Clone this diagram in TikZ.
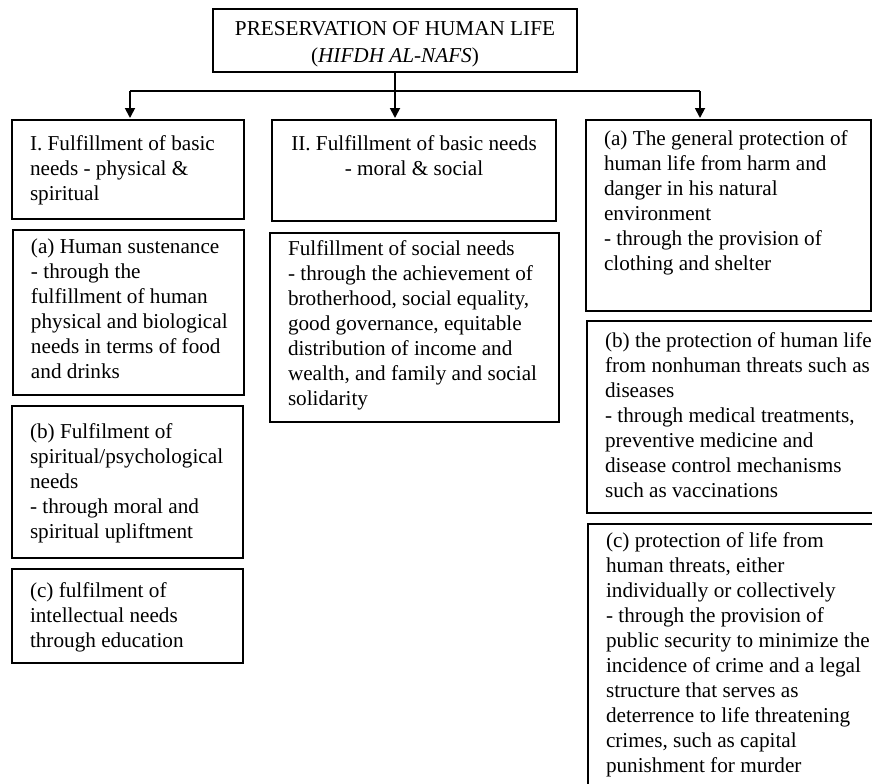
\documentclass[tikz,border=0pt]{standalone}
\usepackage{fontspec}
\setmainfont{Liberation Serif}
\usetikzlibrary{arrows.meta}
\newcommand\LA{\raggedright\leftskip=9pt\relax}
\newcommand\CA{\centering}
% name, x, y, w, h (px), first-baseline offset (px), alignment, text
\newcommand\qbx[8]{%
  \node[boxs, minimum width=#4*0.5pt, minimum height=#5*0.5pt] (#1) at (#2,#3)
  {\parbox[c][\dimexpr#5pt/2\relax][t]{\dimexpr#4pt/2\relax}{%
    \fontsize{10.6pt}{12.5pt}\selectfont#7%
    \vspace*{\dimexpr#6pt/2-\ht\strutbox\relax}\strut #8}};}
\tikzset{
  boxs/.style={draw=black, line width=0.9pt, inner sep=0pt, outer sep=0pt, anchor=north west},
  conn/.style={draw=black, line width=0.9pt},
  arr/.style={conn, -{Triangle[length=5pt,width=5pt]}, shorten >=1pt}
}
\begin{document}
\begin{tikzpicture}[x=0.5pt, y=-0.5pt]
\clip (0,0) rectangle (872,783);
\qbx{top}{213}{9}{364}{63}{26}{\CA}{PRESERVATION OF HUMAN LIFE\\[1pt](\textit{HIFDH AL-NAFS})}
\qbx{b1}{12}{120}{232}{99}{30}{\LA}{I. Fulfillment of basic\\needs - physical \&\\spiritual}
\qbx{la}{13}{230}{231}{165}{23}{\LA}{(a) Human sustenance\\- through the\\fulfillment of human\\physical and biological\\needs in terms of food\\and drinks}
\qbx{lb}{12}{406}{231}{152}{32}{\LA}{(b) Fulfilment of\\spiritual/psychological\\needs\\- through moral and\\spiritual upliftment}
\qbx{lc}{12}{569}{231}{94}{28}{\LA}{(c) fulfilment of\\intellectual needs\\through education}
\qbx{b2}{272}{120}{284}{101}{30}{\CA}{II. Fulfillment of basic needs\\- moral \& social}
\qbx{ma}{270}{233}{289}{189}{22}{\LA}{Fulfillment of social needs\\- through the achievement of\\brotherhood, social equality,\\good governance, equitable\\distribution of income and\\wealth, and family and social\\solidarity}
\qbx{ra}{586}{120}{285}{191}{25}{\LA}{(a) The general protection of\\human life from harm and\\danger in his natural\\environment\\- through the provision of\\clothing and shelter}
\qbx{rb}{587}{321}{293}{192}{26}{\LA}{(b) the protection of human life\\from nonhuman threats such as\\diseases\\- through medical treatments,\\preventive medicine and\\disease control mechanisms\\such as vaccinations}
\qbx{rc}{588}{524}{292}{280}{23}{\LA}{(c) protection of life from\\human threats, either\\individually or collectively\\- through the provision of\\public security to minimize the\\incidence of crime and a legal\\structure that serves as\\deterrence to life threatening\\crimes, such as capital\\punishment for murder}
\coordinate (jl) at (130,91);
\coordinate (jm) at (395,91);
\coordinate (jr) at (700,91);
\draw[conn] (top.south) -- (jm);
\draw[conn] (jl) -- (jr);
\draw[arr] (jl) -- (jl |- b1.north);
\draw[arr] (jm) -- (jm |- b2.north);
\draw[arr] (jr) -- (jr |- ra.north);
\end{tikzpicture}
\end{document}
